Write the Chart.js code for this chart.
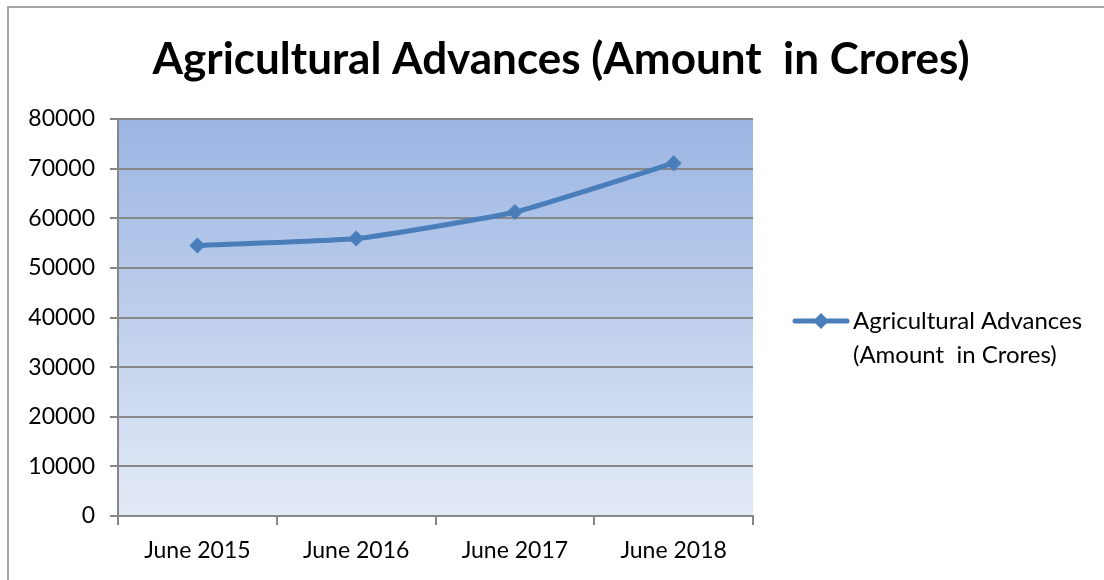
<!DOCTYPE html>
<html>
<head>
<meta charset="utf-8">
<script src="https://cdn.jsdelivr.net/npm/chart.js@4"></script>
<style>
  html, body { margin: 0; padding: 0; background: #fff; }
  #wrap { position: relative; width: 1104px; height: 580px; overflow: hidden; }
  #frame { position: absolute; left: 7px; top: 6px; width: 1200px; height: 700px;
           border-top: 2px solid #a6a6a6; border-left: 2px solid #a6a6a6; pointer-events: none; }
  canvas { position: absolute; left: 0; top: 0; }
</style>
</head>
<body>
<div id="wrap">
  <canvas id="c" width="1104" height="580"></canvas>
  <div id="frame"></div>
</div>
<script>
const categories = ["June 2015", "June 2016", "June 2017", "June 2018"];
const seriesName = ["Agricultural Advances", "(Amount  in Crores)"];
const chartTitle = "Agricultural Advances (Amount  in Crores)";
const advances = [54500, 55900, 61250, 71100];
const yTicks = [0, 10000, 20000, 30000, 40000, 50000, 60000, 70000, 80000];

const FONT = "Lato, 'Open Sans', sans-serif";
const LINE = "#4A7EBB";
const GRID = "#878787";

const bgPlugin = {
  id: 'bg',
  beforeDraw(chart) {
    const { ctx, chartArea: a } = chart;
    const g = ctx.createLinearGradient(0, a.top, 0, a.bottom);
    g.addColorStop(0, '#9BB5E3');
    g.addColorStop(1, '#E3EAF6');
    ctx.save();
    ctx.fillStyle = g;
    ctx.fillRect(a.left, a.top, a.right - a.left, a.bottom - a.top);
    ctx.restore();
  },
  afterDraw(chart) {
    const { ctx } = chart;
    ctx.save();
    // title
    ctx.fillStyle = '#000';
    ctx.font = "bold 44px " + FONT;
    ctx.textAlign = 'center';
    ctx.textBaseline = 'middle';
    ctx.fillText(chartTitle, 561, 60);
    // legend
    const ly = 321;
    ctx.strokeStyle = LINE;
    ctx.lineWidth = 5;
    ctx.lineCap = 'round';
    ctx.beginPath();
    ctx.moveTo(795, ly);
    ctx.lineTo(847, ly);
    ctx.stroke();
    ctx.fillStyle = LINE;
    ctx.beginPath();
    ctx.moveTo(821, ly - 8);
    ctx.lineTo(829, ly);
    ctx.lineTo(821, ly + 8);
    ctx.lineTo(813, ly);
    ctx.closePath();
    ctx.fill();
    ctx.fillStyle = '#000';
    ctx.font = "24px " + FONT;
    ctx.textAlign = 'left';
    ctx.fillText(seriesName[0], 853, ly);
    ctx.fillText(seriesName[1], 853, ly + 34);
    ctx.restore();
  }
};

new Chart(document.getElementById('c'), {
  type: 'line',
  data: {
    labels: categories,
    datasets: [{
      label: seriesName.join(' '),
      data: advances,
      borderColor: LINE,
      backgroundColor: LINE,
      borderWidth: 5,
      tension: 0.15,
      pointStyle: 'rectRot',
      pointRadius: 8,
      pointHoverRadius: 8,
      pointBorderWidth: 0,
      pointBackgroundColor: LINE
    }]
  },
  options: {
    responsive: false,
    animation: false,
    events: [],
    layout: { padding: { top: 119, right: 351, bottom: 0, left: 0 } },
    plugins: { legend: { display: false }, title: { display: false }, tooltip: { enabled: false } },
    scales: {
      x: {
        offset: true,
        grid: { offset: true, drawOnChartArea: false, color: GRID, lineWidth: 2, tickLength: 9 },
        border: { color: GRID, width: 2 },
        ticks: { color: '#000', font: { family: FONT, size: 23 }, padding: 12 },
        afterFit(s) { s.height = 64; }
      },
      y: {
        min: 0, max: 80000,
        afterBuildTicks(s) { s.ticks = yTicks.map(v => ({ value: v })); },
        grid: { color: GRID, lineWidth: 2, tickLength: 8 },
        border: { color: GRID, width: 2 },
        ticks: { color: '#000', font: { family: FONT, size: 23 }, padding: 15,
                 callback: (v) => String(v) },
        afterFit(s) { s.width = 118; }
      }
    }
  },
  plugins: [bgPlugin]
});
</script>
</body>
</html>
